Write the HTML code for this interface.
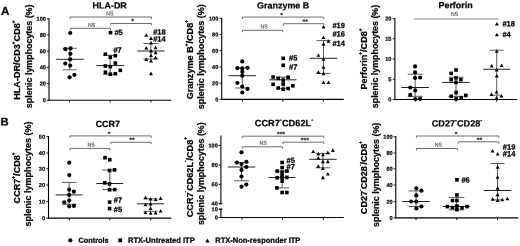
<!DOCTYPE html>
<html><head><meta charset="utf-8"><title>figure</title>
<style>
html,body{margin:0;padding:0;background:#fff;}
body{width:520px;height:246px;overflow:hidden;}
svg{display:block;font-family:"Liberation Sans", sans-serif;}
</style></head><body>
<svg width="520" height="246" viewBox="0 0 520 246">
<rect x="0" y="0" width="520" height="246" fill="#fff"/>
<g style="will-change:transform">
<line x1="49" y1="18.25" x2="49" y2="100.7" stroke="#000" stroke-width="1.1" stroke-linecap="butt"/>
<line x1="48.45" y1="100.2" x2="171.3" y2="100.2" stroke="#000" stroke-width="1.15" stroke-linecap="butt"/>
<line x1="46.8" y1="18.8" x2="49" y2="18.8" stroke="#000" stroke-width="0.9" stroke-linecap="butt"/>
<text x="45.9" y="20.8" font-size="5.6" text-anchor="end" font-weight="bold" fill="#000" transform="rotate(0.03 45.9 20.8)" stroke="#000" stroke-width="0.2">100</text>
<line x1="46.8" y1="34.9" x2="49" y2="34.9" stroke="#000" stroke-width="0.9" stroke-linecap="butt"/>
<text x="45.9" y="36.9" font-size="5.6" text-anchor="end" font-weight="bold" fill="#000" transform="rotate(0.03 45.9 36.9)" stroke="#000" stroke-width="0.2">80</text>
<line x1="46.8" y1="51.2" x2="49" y2="51.2" stroke="#000" stroke-width="0.9" stroke-linecap="butt"/>
<text x="45.9" y="53.2" font-size="5.6" text-anchor="end" font-weight="bold" fill="#000" transform="rotate(0.03 45.9 53.2)" stroke="#000" stroke-width="0.2">60</text>
<line x1="46.8" y1="67.2" x2="49" y2="67.2" stroke="#000" stroke-width="0.9" stroke-linecap="butt"/>
<text x="45.9" y="69.2" font-size="5.6" text-anchor="end" font-weight="bold" fill="#000" transform="rotate(0.03 45.9 69.2)" stroke="#000" stroke-width="0.2">40</text>
<line x1="46.8" y1="83.6" x2="49" y2="83.6" stroke="#000" stroke-width="0.9" stroke-linecap="butt"/>
<text x="45.9" y="85.6" font-size="5.6" text-anchor="end" font-weight="bold" fill="#000" transform="rotate(0.03 45.9 85.6)" stroke="#000" stroke-width="0.2">20</text>
<line x1="46.8" y1="100.3" x2="49" y2="100.3" stroke="#000" stroke-width="0.9" stroke-linecap="butt"/>
<text x="45.9" y="102.3" font-size="5.6" text-anchor="end" font-weight="bold" fill="#000" transform="rotate(0.03 45.9 102.3)" stroke="#000" stroke-width="0.2">0</text>
<line x1="69.6" y1="100.2" x2="69.6" y2="102.4" stroke="#000" stroke-width="1" stroke-linecap="butt"/>
<line x1="110.2" y1="100.2" x2="110.2" y2="102.4" stroke="#000" stroke-width="1" stroke-linecap="butt"/>
<line x1="150.9" y1="100.2" x2="150.9" y2="102.4" stroke="#000" stroke-width="1" stroke-linecap="butt"/>
<text x="109.7" y="8.5" font-size="8.95" text-anchor="middle" font-weight="bold" fill="#000" transform="rotate(0.03 109.7 8.5)" stroke="#000" stroke-width="0.22">HLA-DR</text>
<text x="20.5" y="60.1" font-size="9.1" text-anchor="middle" font-weight="bold" fill="#000" transform="rotate(-90 20.5 60.1)" stroke="#000" stroke-width="0.22">HLA-DR/CD3<tspan font-size="4.73" dy="-5.28">+</tspan><tspan dy="5.28">CD8</tspan><tspan font-size="4.73" dy="-5.28">+</tspan></text>
<text x="32" y="56.35" font-size="8.9" text-anchor="middle" font-weight="bold" fill="#000" transform="rotate(-90 32 56.35)" stroke="#000" stroke-width="0.22">splenic lymphocytes (%)</text>
<line x1="55.8" y1="59.3" x2="83.8" y2="59.3" stroke="#222" stroke-width="1" stroke-linecap="butt"/>
<line x1="69.8" y1="48.3" x2="69.8" y2="69.8" stroke="#333" stroke-width="0.8" stroke-linecap="butt"/>
<line x1="62.8" y1="48.3" x2="76.8" y2="48.3" stroke="#333" stroke-width="0.8" stroke-linecap="butt"/>
<line x1="62.8" y1="69.8" x2="76.8" y2="69.8" stroke="#333" stroke-width="0.8" stroke-linecap="butt"/>
<line x1="96.2" y1="65.6" x2="124.2" y2="65.6" stroke="#222" stroke-width="1" stroke-linecap="butt"/>
<line x1="110.2" y1="55.4" x2="110.2" y2="74.4" stroke="#333" stroke-width="0.8" stroke-linecap="butt"/>
<line x1="103.2" y1="55.4" x2="117.2" y2="55.4" stroke="#333" stroke-width="0.8" stroke-linecap="butt"/>
<line x1="103.2" y1="74.4" x2="117.2" y2="74.4" stroke="#333" stroke-width="0.8" stroke-linecap="butt"/>
<line x1="137.2" y1="51" x2="164.6" y2="51" stroke="#222" stroke-width="1" stroke-linecap="butt"/>
<line x1="150.9" y1="43.5" x2="150.9" y2="59" stroke="#333" stroke-width="0.8" stroke-linecap="butt"/>
<line x1="143.4" y1="43.5" x2="158.4" y2="43.5" stroke="#333" stroke-width="0.8" stroke-linecap="butt"/>
<line x1="143.4" y1="59" x2="158.4" y2="59" stroke="#333" stroke-width="0.8" stroke-linecap="butt"/>
<circle cx="70.2" cy="33" r="2.1"/>
<circle cx="65.4" cy="49.2" r="2.1"/>
<circle cx="70.6" cy="48.4" r="2.1"/>
<circle cx="70.4" cy="53.8" r="2.1"/>
<circle cx="70.2" cy="59.3" r="2.1"/>
<circle cx="65.3" cy="63.6" r="2.1"/>
<circle cx="70.2" cy="65.6" r="2.1"/>
<circle cx="74.4" cy="74.8" r="2.1"/>
<circle cx="69.6" cy="77.3" r="2.1"/>
<rect x="108.7" y="30.8" width="3.6" height="3.6"/>
<rect x="103.6" y="52.4" width="3.6" height="3.6"/>
<rect x="108.5" y="55.5" width="3.6" height="3.6"/>
<rect x="113.5" y="53.9" width="3.6" height="3.6"/>
<rect x="113.5" y="61.3" width="3.6" height="3.6"/>
<rect x="103.6" y="64.2" width="3.6" height="3.6"/>
<rect x="108.5" y="64.8" width="3.6" height="3.6"/>
<rect x="103.6" y="70.5" width="3.6" height="3.6"/>
<rect x="108.5" y="72.4" width="3.6" height="3.6"/>
<rect x="113.5" y="71.9" width="3.6" height="3.6"/>
<rect x="118.5" y="68.5" width="3.6" height="3.6"/>
<path d="M146.3 33.2L148.25 36.8L144.35 36.8Z"/>
<path d="M151 36.3L152.95 39.9L149.05 39.9Z"/>
<path d="M151 41L152.95 44.6L149.05 44.6Z"/>
<path d="M146.3 46L148.25 49.6L144.35 49.6Z"/>
<path d="M155.6 45.6L157.55 49.2L153.65 49.2Z"/>
<path d="M151 48.9L152.95 52.5L149.05 52.5Z"/>
<path d="M155.6 50.6L157.55 54.2L153.65 54.2Z"/>
<path d="M151 53.4L152.95 57L149.05 57Z"/>
<path d="M155.6 55.7L157.55 59.3L153.65 59.3Z"/>
<path d="M146.3 57.4L148.25 61L144.35 61Z"/>
<path d="M151 58.8L152.95 62.4L149.05 62.4Z"/>
<path d="M151 71.6L152.95 75.2L149.05 75.2Z"/>
<path d="M70.1 18.9L70.1 17L151.5 17L151.5 18.9" fill="none" stroke="#6c6c6c" stroke-width="1"/>
<text x="0" y="0" font-size="5.9" text-anchor="middle" font-weight="normal" fill="#404040" transform="translate(109.8 15.4) rotate(0.03) scale(0.88 1)" stroke="#404040" stroke-width="0.12">NS</text>
<path d="M70.1 30.2L70.1 28.3L110.6 28.3L110.6 30.2" fill="none" stroke="#6c6c6c" stroke-width="1"/>
<text x="0" y="0" font-size="5.9" text-anchor="middle" font-weight="normal" fill="#404040" transform="translate(91.6 27) rotate(0.03) scale(0.88 1)" stroke="#404040" stroke-width="0.12">NS</text>
<path d="M110.7 25.4L110.7 23.5L151.5 23.5L151.5 25.4" fill="none" stroke="#6c6c6c" stroke-width="1"/>
<text x="132.5" y="23.6" font-size="7" text-anchor="middle" font-weight="bold" fill="#1a1a1a" transform="rotate(0.03 132.5 23.6)" stroke="#1a1a1a" stroke-width="0.1">*</text>
<text x="114.4" y="35" font-size="7.5" text-anchor="start" font-weight="bold" fill="#000" transform="rotate(0.03 114.4 35)" stroke="#000" stroke-width="0.26">#5</text>
<text x="113.4" y="52.4" font-size="7.5" text-anchor="start" font-weight="bold" fill="#000" transform="rotate(0.03 113.4 52.4)" stroke="#000" stroke-width="0.26">#7</text>
<text x="153.2" y="34.6" font-size="7.5" text-anchor="start" font-weight="bold" fill="#000" transform="rotate(0.03 153.2 34.6)" stroke="#000" stroke-width="0.26">#18</text>
<text x="153.2" y="41.5" font-size="7.5" text-anchor="start" font-weight="bold" fill="#000" transform="rotate(0.03 153.2 41.5)" stroke="#000" stroke-width="0.26">#14</text>
<line x1="221.7" y1="17.85" x2="221.7" y2="99.9" stroke="#000" stroke-width="1.1" stroke-linecap="butt"/>
<line x1="221.15" y1="99.4" x2="343.8" y2="99.4" stroke="#000" stroke-width="1.15" stroke-linecap="butt"/>
<line x1="219.5" y1="18.4" x2="221.7" y2="18.4" stroke="#000" stroke-width="0.9" stroke-linecap="butt"/>
<text x="218.3" y="20.4" font-size="5.6" text-anchor="end" font-weight="bold" fill="#000" transform="rotate(0.03 218.3 20.4)" stroke="#000" stroke-width="0.2">100</text>
<line x1="219.5" y1="34.5" x2="221.7" y2="34.5" stroke="#000" stroke-width="0.9" stroke-linecap="butt"/>
<text x="218.3" y="36.5" font-size="5.6" text-anchor="end" font-weight="bold" fill="#000" transform="rotate(0.03 218.3 36.5)" stroke="#000" stroke-width="0.2">80</text>
<line x1="219.5" y1="50.7" x2="221.7" y2="50.7" stroke="#000" stroke-width="0.9" stroke-linecap="butt"/>
<text x="218.3" y="52.7" font-size="5.6" text-anchor="end" font-weight="bold" fill="#000" transform="rotate(0.03 218.3 52.7)" stroke="#000" stroke-width="0.2">60</text>
<line x1="219.5" y1="67" x2="221.7" y2="67" stroke="#000" stroke-width="0.9" stroke-linecap="butt"/>
<text x="218.3" y="69" font-size="5.6" text-anchor="end" font-weight="bold" fill="#000" transform="rotate(0.03 218.3 69)" stroke="#000" stroke-width="0.2">40</text>
<line x1="219.5" y1="83.2" x2="221.7" y2="83.2" stroke="#000" stroke-width="0.9" stroke-linecap="butt"/>
<text x="218.3" y="85.2" font-size="5.6" text-anchor="end" font-weight="bold" fill="#000" transform="rotate(0.03 218.3 85.2)" stroke="#000" stroke-width="0.2">20</text>
<line x1="219.5" y1="99.4" x2="221.7" y2="99.4" stroke="#000" stroke-width="0.9" stroke-linecap="butt"/>
<text x="218.3" y="101.4" font-size="5.6" text-anchor="end" font-weight="bold" fill="#000" transform="rotate(0.03 218.3 101.4)" stroke="#000" stroke-width="0.2">0</text>
<line x1="242.5" y1="99.4" x2="242.5" y2="101.6" stroke="#000" stroke-width="1" stroke-linecap="butt"/>
<line x1="282.8" y1="99.4" x2="282.8" y2="101.6" stroke="#000" stroke-width="1" stroke-linecap="butt"/>
<line x1="323.3" y1="99.4" x2="323.3" y2="101.6" stroke="#000" stroke-width="1" stroke-linecap="butt"/>
<text x="283.2" y="8.4" font-size="8.95" text-anchor="middle" font-weight="bold" fill="#000" transform="rotate(0.03 283.2 8.4)" stroke="#000" stroke-width="0.22">Granzyme B</text>
<text x="192.9" y="59.7" font-size="9.1" text-anchor="middle" font-weight="bold" fill="#000" transform="rotate(-90 192.9 59.7)" stroke="#000" stroke-width="0.22">Granzyme B<tspan font-size="4.73" dy="-5.28">+</tspan><tspan dy="5.28">/CD8</tspan><tspan font-size="4.73" dy="-5.28">+</tspan></text>
<text x="204.4" y="56.7" font-size="9" text-anchor="middle" font-weight="bold" fill="#000" transform="rotate(-90 204.4 56.7)" stroke="#000" stroke-width="0.22">splenic lymphocytes (%)</text>
<line x1="228.55" y1="75.7" x2="256.05" y2="75.7" stroke="#222" stroke-width="1" stroke-linecap="butt"/>
<line x1="242.3" y1="67.8" x2="242.3" y2="88" stroke="#333" stroke-width="0.8" stroke-linecap="butt"/>
<line x1="235.3" y1="67.8" x2="249.3" y2="67.8" stroke="#333" stroke-width="0.8" stroke-linecap="butt"/>
<line x1="235.3" y1="88" x2="249.3" y2="88" stroke="#333" stroke-width="0.8" stroke-linecap="butt"/>
<line x1="269.5" y1="79.8" x2="296.5" y2="79.8" stroke="#222" stroke-width="1" stroke-linecap="butt"/>
<line x1="283" y1="77.2" x2="283" y2="88.6" stroke="#333" stroke-width="0.8" stroke-linecap="butt"/>
<line x1="276" y1="77.2" x2="290" y2="77.2" stroke="#333" stroke-width="0.8" stroke-linecap="butt"/>
<line x1="276" y1="88.6" x2="290" y2="88.6" stroke="#333" stroke-width="0.8" stroke-linecap="butt"/>
<line x1="309.75" y1="58.3" x2="337.25" y2="58.3" stroke="#222" stroke-width="1" stroke-linecap="butt"/>
<line x1="323.5" y1="40.6" x2="323.5" y2="73.4" stroke="#333" stroke-width="0.8" stroke-linecap="butt"/>
<line x1="316.5" y1="40.6" x2="330.5" y2="40.6" stroke="#333" stroke-width="0.8" stroke-linecap="butt"/>
<line x1="316.5" y1="73.4" x2="330.5" y2="73.4" stroke="#333" stroke-width="0.8" stroke-linecap="butt"/>
<circle cx="242.3" cy="61.4" r="2.1"/>
<circle cx="237.4" cy="68.2" r="2.1"/>
<circle cx="242.3" cy="68.4" r="2.1"/>
<circle cx="247.5" cy="67.8" r="2.1"/>
<circle cx="242.3" cy="71.8" r="2.1"/>
<circle cx="242.3" cy="75.7" r="2.1"/>
<circle cx="237.4" cy="83" r="2.1"/>
<circle cx="242.3" cy="86.5" r="2.1"/>
<circle cx="247.5" cy="88.9" r="2.1"/>
<circle cx="242.3" cy="92.5" r="2.1"/>
<rect x="281.4" y="56.5" width="3.6" height="3.6"/>
<rect x="281.4" y="63.5" width="3.6" height="3.6"/>
<rect x="271.3" y="75.2" width="3.6" height="3.6"/>
<rect x="276.4" y="76.6" width="3.6" height="3.6"/>
<rect x="281.4" y="78.3" width="3.6" height="3.6"/>
<rect x="286.3" y="75.5" width="3.6" height="3.6"/>
<rect x="271.3" y="82.5" width="3.6" height="3.6"/>
<rect x="276.4" y="86.2" width="3.6" height="3.6"/>
<rect x="281.4" y="87.4" width="3.6" height="3.6"/>
<rect x="286.3" y="86.7" width="3.6" height="3.6"/>
<rect x="291.1" y="84" width="3.6" height="3.6"/>
<rect x="281.4" y="82.2" width="3.6" height="3.6"/>
<path d="M323.5 24.9L325.45 28.5L321.55 28.5Z"/>
<path d="M323.5 35.5L325.45 39.1L321.55 39.1Z"/>
<path d="M328.5 39.2L330.45 42.8L326.55 42.8Z"/>
<path d="M323.5 42.1L325.45 45.7L321.55 45.7Z"/>
<path d="M318.4 53.2L320.35 56.8L316.45 56.8Z"/>
<path d="M323.5 56.9L325.45 60.5L321.55 60.5Z"/>
<path d="M323.5 65.2L325.45 68.8L321.55 68.8Z"/>
<path d="M318.4 70.3L320.35 73.9L316.45 73.9Z"/>
<path d="M323.5 71.6L325.45 75.2L321.55 75.2Z"/>
<path d="M323.5 80.4L325.45 84L321.55 84Z"/>
<path d="M328.5 80.4L330.45 84L326.55 84Z"/>
<path d="M242.5 19L242.5 17.1L323.8 17.1L323.8 19" fill="none" stroke="#6c6c6c" stroke-width="1"/>
<text x="281.6" y="17.5" font-size="7" text-anchor="middle" font-weight="bold" fill="#1a1a1a" transform="rotate(0.03 281.6 17.5)" stroke="#1a1a1a" stroke-width="0.1">*</text>
<path d="M242.5 32.2L242.5 30.3L282.7 30.3L282.7 32.2" fill="none" stroke="#6c6c6c" stroke-width="1"/>
<text x="0" y="0" font-size="5.9" text-anchor="middle" font-weight="normal" fill="#404040" transform="translate(264 28.6) rotate(0.03) scale(0.88 1)" stroke="#404040" stroke-width="0.12">NS</text>
<path d="M283.4 25.6L283.4 23.7L323.8 23.7L323.8 25.6" fill="none" stroke="#6c6c6c" stroke-width="1"/>
<text x="305.2" y="23.9" font-size="7" text-anchor="middle" font-weight="bold" fill="#1a1a1a" transform="rotate(0.03 305.2 23.9)" stroke="#1a1a1a" stroke-width="0.1">**</text>
<text x="289" y="60.6" font-size="7.5" text-anchor="start" font-weight="bold" fill="#000" transform="rotate(0.03 289 60.6)" stroke="#000" stroke-width="0.26">#5</text>
<text x="289" y="69.4" font-size="7.5" text-anchor="start" font-weight="bold" fill="#000" transform="rotate(0.03 289 69.4)" stroke="#000" stroke-width="0.26">#7</text>
<text x="332.4" y="27.9" font-size="7.5" text-anchor="start" font-weight="bold" fill="#000" transform="rotate(0.03 332.4 27.9)" stroke="#000" stroke-width="0.26">#19</text>
<text x="332.4" y="36.5" font-size="7.5" text-anchor="start" font-weight="bold" fill="#000" transform="rotate(0.03 332.4 36.5)" stroke="#000" stroke-width="0.26">#16</text>
<text x="332.4" y="46.1" font-size="7.5" text-anchor="start" font-weight="bold" fill="#000" transform="rotate(0.03 332.4 46.1)" stroke="#000" stroke-width="0.26">#14</text>
<line x1="394.9" y1="18.05" x2="394.9" y2="100" stroke="#000" stroke-width="1.1" stroke-linecap="butt"/>
<line x1="394.35" y1="99.5" x2="517" y2="99.5" stroke="#000" stroke-width="1.15" stroke-linecap="butt"/>
<line x1="392.7" y1="18.6" x2="394.9" y2="18.6" stroke="#000" stroke-width="0.9" stroke-linecap="butt"/>
<text x="391.4" y="20.6" font-size="5.6" text-anchor="end" font-weight="bold" fill="#000" transform="rotate(0.03 391.4 20.6)" stroke="#000" stroke-width="0.2">20</text>
<line x1="392.7" y1="38.8" x2="394.9" y2="38.8" stroke="#000" stroke-width="0.9" stroke-linecap="butt"/>
<text x="391.4" y="40.8" font-size="5.6" text-anchor="end" font-weight="bold" fill="#000" transform="rotate(0.03 391.4 40.8)" stroke="#000" stroke-width="0.2">15</text>
<line x1="392.7" y1="59" x2="394.9" y2="59" stroke="#000" stroke-width="0.9" stroke-linecap="butt"/>
<text x="391.4" y="61" font-size="5.6" text-anchor="end" font-weight="bold" fill="#000" transform="rotate(0.03 391.4 61)" stroke="#000" stroke-width="0.2">10</text>
<line x1="392.7" y1="79.3" x2="394.9" y2="79.3" stroke="#000" stroke-width="0.9" stroke-linecap="butt"/>
<text x="391.4" y="81.3" font-size="5.6" text-anchor="end" font-weight="bold" fill="#000" transform="rotate(0.03 391.4 81.3)" stroke="#000" stroke-width="0.2">5</text>
<line x1="392.7" y1="99.5" x2="394.9" y2="99.5" stroke="#000" stroke-width="0.9" stroke-linecap="butt"/>
<text x="391.4" y="101.5" font-size="5.6" text-anchor="end" font-weight="bold" fill="#000" transform="rotate(0.03 391.4 101.5)" stroke="#000" stroke-width="0.2">0</text>
<line x1="415.6" y1="99.5" x2="415.6" y2="101.7" stroke="#000" stroke-width="1" stroke-linecap="butt"/>
<line x1="456" y1="99.5" x2="456" y2="101.7" stroke="#000" stroke-width="1" stroke-linecap="butt"/>
<line x1="496.8" y1="99.5" x2="496.8" y2="101.7" stroke="#000" stroke-width="1" stroke-linecap="butt"/>
<text x="455.6" y="8.3" font-size="8.95" text-anchor="middle" font-weight="bold" fill="#000" transform="rotate(0.03 455.6 8.3)" stroke="#000" stroke-width="0.22">Perforin</text>
<text x="366.9" y="59" font-size="9.1" text-anchor="middle" font-weight="bold" fill="#000" transform="rotate(-90 366.9 59)" stroke="#000" stroke-width="0.22">Perforin<tspan font-size="4.73" dy="-5.28">+</tspan><tspan dy="5.28">/CD8</tspan><tspan font-size="4.73" dy="-5.28">+</tspan></text>
<text x="378.4" y="56.5" font-size="8.87" text-anchor="middle" font-weight="bold" fill="#000" transform="rotate(-90 378.4 56.5)" stroke="#000" stroke-width="0.22">splenic lymphocytes (%)</text>
<line x1="401.45" y1="87.5" x2="428.95" y2="87.5" stroke="#222" stroke-width="1" stroke-linecap="butt"/>
<line x1="415.2" y1="74.2" x2="415.2" y2="96.3" stroke="#333" stroke-width="0.8" stroke-linecap="butt"/>
<line x1="407.7" y1="74.2" x2="422.7" y2="74.2" stroke="#333" stroke-width="0.8" stroke-linecap="butt"/>
<line x1="407.7" y1="96.3" x2="422.7" y2="96.3" stroke="#333" stroke-width="0.8" stroke-linecap="butt"/>
<line x1="442.3" y1="82.4" x2="469.7" y2="82.4" stroke="#222" stroke-width="1" stroke-linecap="butt"/>
<line x1="456" y1="77.3" x2="456" y2="96.4" stroke="#333" stroke-width="0.8" stroke-linecap="butt"/>
<line x1="448.5" y1="77.3" x2="463.5" y2="77.3" stroke="#333" stroke-width="0.8" stroke-linecap="butt"/>
<line x1="448.5" y1="96.4" x2="463.5" y2="96.4" stroke="#333" stroke-width="0.8" stroke-linecap="butt"/>
<line x1="483.2" y1="69.3" x2="510.2" y2="69.3" stroke="#222" stroke-width="1" stroke-linecap="butt"/>
<line x1="496.7" y1="50.2" x2="496.7" y2="95.2" stroke="#333" stroke-width="0.8" stroke-linecap="butt"/>
<line x1="489.7" y1="50.2" x2="503.7" y2="50.2" stroke="#333" stroke-width="0.8" stroke-linecap="butt"/>
<line x1="492.7" y1="95.2" x2="500.7" y2="95.2" stroke="#333" stroke-width="0.8" stroke-linecap="butt"/>
<circle cx="415.1" cy="66.4" r="2.1"/>
<circle cx="415.1" cy="72.4" r="2.1"/>
<circle cx="415.1" cy="77.9" r="2.1"/>
<circle cx="420.1" cy="77.5" r="2.1"/>
<circle cx="410.3" cy="87.5" r="2.1"/>
<circle cx="415.2" cy="90.4" r="2.1"/>
<circle cx="410.3" cy="94.9" r="2.1"/>
<circle cx="415.3" cy="99" r="2.1"/>
<circle cx="420.1" cy="98.8" r="2.1"/>
<rect x="454.2" y="68.2" width="3.6" height="3.6"/>
<rect x="449.4" y="71.6" width="3.6" height="3.6"/>
<rect x="449.4" y="77.9" width="3.6" height="3.6"/>
<rect x="454.2" y="76.1" width="3.6" height="3.6"/>
<rect x="459.1" y="77.9" width="3.6" height="3.6"/>
<rect x="454.2" y="80.6" width="3.6" height="3.6"/>
<rect x="454.3" y="90.8" width="3.6" height="3.6"/>
<rect x="449.4" y="94.5" width="3.6" height="3.6"/>
<rect x="454.3" y="97" width="3.6" height="3.6"/>
<rect x="459.4" y="95.9" width="3.6" height="3.6"/>
<rect x="464" y="93.6" width="3.6" height="3.6"/>
<path d="M496.8 22L498.75 25.6L494.85 25.6Z"/>
<path d="M496.8 32.7L498.75 36.3L494.85 36.3Z"/>
<path d="M496.7 49.2L498.65 52.8L494.75 52.8Z"/>
<path d="M491.7 63.8L493.65 67.4L489.75 67.4Z"/>
<path d="M501.6 63.5L503.55 67.1L499.65 67.1Z"/>
<path d="M496.7 67.8L498.65 71.4L494.75 71.4Z"/>
<path d="M496.7 74L498.65 77.6L494.75 77.6Z"/>
<path d="M496.6 90L498.55 93.6L494.65 93.6Z"/>
<path d="M491.5 92.3L493.45 95.9L489.55 95.9Z"/>
<path d="M501.5 93.9L503.45 97.5L499.55 97.5Z"/>
<path d="M496.6 95.6L498.55 99.2L494.65 99.2Z"/>
<path d="M413.8 19L413.8 19L498.8 19L498.8 19" fill="none" stroke="#6c6c6c" stroke-width="0.8"/>
<text x="0" y="0" font-size="5.9" text-anchor="middle" font-weight="normal" fill="#404040" transform="translate(454.6 16.1) rotate(0.03) scale(0.88 1)" stroke="#404040" stroke-width="0.12">NS</text>
<text x="502.4" y="26.2" font-size="7.5" text-anchor="start" font-weight="bold" fill="#000" transform="rotate(0.03 502.4 26.2)" stroke="#000" stroke-width="0.26">#18</text>
<text x="502.4" y="36.9" font-size="7.5" text-anchor="start" font-weight="bold" fill="#000" transform="rotate(0.03 502.4 36.9)" stroke="#000" stroke-width="0.26">#4</text>
<line x1="48.5" y1="136.05" x2="48.5" y2="218.6" stroke="#000" stroke-width="1.1" stroke-linecap="butt"/>
<line x1="47.95" y1="218.1" x2="171.3" y2="218.1" stroke="#000" stroke-width="1.15" stroke-linecap="butt"/>
<line x1="46.3" y1="136.7" x2="48.5" y2="136.7" stroke="#000" stroke-width="0.9" stroke-linecap="butt"/>
<text x="45.1" y="138.7" font-size="5.6" text-anchor="end" font-weight="bold" fill="#000" transform="rotate(0.03 45.1 138.7)" stroke="#000" stroke-width="0.2">50</text>
<line x1="46.3" y1="153" x2="48.5" y2="153" stroke="#000" stroke-width="0.9" stroke-linecap="butt"/>
<text x="45.1" y="155" font-size="5.6" text-anchor="end" font-weight="bold" fill="#000" transform="rotate(0.03 45.1 155)" stroke="#000" stroke-width="0.2">40</text>
<line x1="46.3" y1="168.8" x2="48.5" y2="168.8" stroke="#000" stroke-width="0.9" stroke-linecap="butt"/>
<text x="45.1" y="170.8" font-size="5.6" text-anchor="end" font-weight="bold" fill="#000" transform="rotate(0.03 45.1 170.8)" stroke="#000" stroke-width="0.2">30</text>
<line x1="46.3" y1="185" x2="48.5" y2="185" stroke="#000" stroke-width="0.9" stroke-linecap="butt"/>
<text x="45.1" y="187" font-size="5.6" text-anchor="end" font-weight="bold" fill="#000" transform="rotate(0.03 45.1 187)" stroke="#000" stroke-width="0.2">20</text>
<line x1="46.3" y1="201.7" x2="48.5" y2="201.7" stroke="#000" stroke-width="0.9" stroke-linecap="butt"/>
<text x="45.1" y="203.7" font-size="5.6" text-anchor="end" font-weight="bold" fill="#000" transform="rotate(0.03 45.1 203.7)" stroke="#000" stroke-width="0.2">10</text>
<line x1="46.3" y1="218.2" x2="48.5" y2="218.2" stroke="#000" stroke-width="0.9" stroke-linecap="butt"/>
<text x="45.1" y="220.2" font-size="5.6" text-anchor="end" font-weight="bold" fill="#000" transform="rotate(0.03 45.1 220.2)" stroke="#000" stroke-width="0.2">0</text>
<line x1="69.4" y1="218.1" x2="69.4" y2="220.3" stroke="#000" stroke-width="1" stroke-linecap="butt"/>
<line x1="109.8" y1="218.1" x2="109.8" y2="220.3" stroke="#000" stroke-width="1" stroke-linecap="butt"/>
<line x1="150.8" y1="218.1" x2="150.8" y2="220.3" stroke="#000" stroke-width="1" stroke-linecap="butt"/>
<text x="107.8" y="126.9" font-size="8.95" text-anchor="middle" font-weight="bold" fill="#000" transform="rotate(0.03 107.8 126.9)" stroke="#000" stroke-width="0.22">CCR7</text>
<text x="19.8" y="177.9" font-size="9.1" text-anchor="middle" font-weight="bold" fill="#000" transform="rotate(-90 19.8 177.9)" stroke="#000" stroke-width="0.22">CCR7<tspan font-size="4.73" dy="-5.28">+</tspan><tspan dy="5.28">/CD8</tspan><tspan font-size="4.73" dy="-5.28">+</tspan></text>
<text x="31.2" y="174.1" font-size="9" text-anchor="middle" font-weight="bold" fill="#000" transform="rotate(-90 31.2 174.1)" stroke="#000" stroke-width="0.22">splenic lymphocytes (%)</text>
<line x1="55.7" y1="194.9" x2="82.7" y2="194.9" stroke="#222" stroke-width="1" stroke-linecap="butt"/>
<line x1="69.2" y1="182.4" x2="69.2" y2="204.2" stroke="#333" stroke-width="0.8" stroke-linecap="butt"/>
<line x1="61.95" y1="182.4" x2="76.45" y2="182.4" stroke="#333" stroke-width="0.8" stroke-linecap="butt"/>
<line x1="61.95" y1="204.2" x2="76.45" y2="204.2" stroke="#333" stroke-width="0.8" stroke-linecap="butt"/>
<line x1="96.3" y1="183.5" x2="123.3" y2="183.5" stroke="#222" stroke-width="1" stroke-linecap="butt"/>
<line x1="109.8" y1="170" x2="109.8" y2="189.6" stroke="#333" stroke-width="0.8" stroke-linecap="butt"/>
<line x1="102.3" y1="170" x2="117.3" y2="170" stroke="#333" stroke-width="0.8" stroke-linecap="butt"/>
<line x1="102.3" y1="189.6" x2="117.3" y2="189.6" stroke="#333" stroke-width="0.8" stroke-linecap="butt"/>
<line x1="137.1" y1="203.8" x2="164.1" y2="203.8" stroke="#222" stroke-width="1" stroke-linecap="butt"/>
<line x1="150.6" y1="198.8" x2="150.6" y2="211.3" stroke="#333" stroke-width="0.8" stroke-linecap="butt"/>
<line x1="143.6" y1="198.8" x2="157.6" y2="198.8" stroke="#333" stroke-width="0.8" stroke-linecap="butt"/>
<line x1="143.6" y1="211.3" x2="157.6" y2="211.3" stroke="#333" stroke-width="0.8" stroke-linecap="butt"/>
<circle cx="69.3" cy="162.7" r="2.1"/>
<circle cx="69.3" cy="175.1" r="2.1"/>
<circle cx="69.2" cy="189.7" r="2.1"/>
<circle cx="73.9" cy="191.7" r="2.1"/>
<circle cx="69.2" cy="194.9" r="2.1"/>
<circle cx="69.2" cy="200.6" r="2.1"/>
<circle cx="64.2" cy="202.3" r="2.1"/>
<circle cx="69.2" cy="206.3" r="2.1"/>
<circle cx="73.9" cy="205.9" r="2.1"/>
<rect x="103.2" y="155.9" width="3.6" height="3.6"/>
<rect x="108" y="157.9" width="3.6" height="3.6"/>
<rect x="107.7" y="168.7" width="3.6" height="3.6"/>
<rect x="112.7" y="168.1" width="3.6" height="3.6"/>
<rect x="103" y="181.1" width="3.6" height="3.6"/>
<rect x="107.7" y="182" width="3.6" height="3.6"/>
<rect x="107.8" y="188" width="3.6" height="3.6"/>
<rect x="112.8" y="187.8" width="3.6" height="3.6"/>
<rect x="107.8" y="200.3" width="3.6" height="3.6"/>
<rect x="107.8" y="206.8" width="3.6" height="3.6"/>
<path d="M145.5 195.6L147.45 199.2L143.55 199.2Z"/>
<path d="M150.6 197L152.55 200.6L148.65 200.6Z"/>
<path d="M155.6 197.3L157.55 200.9L153.65 200.9Z"/>
<path d="M160.6 196.3L162.55 199.9L158.65 199.9Z"/>
<path d="M145.5 202.6L147.45 206.2L143.55 206.2Z"/>
<path d="M150.6 202L152.55 205.6L148.65 205.6Z"/>
<path d="M150.6 206.4L152.55 210L148.65 210Z"/>
<path d="M145.5 210.4L147.45 214L143.55 214Z"/>
<path d="M150.6 211.2L152.55 214.8L148.65 214.8Z"/>
<path d="M155.6 210.8L157.55 214.4L153.65 214.4Z"/>
<path d="M160.6 209L162.55 212.6L158.65 212.6Z"/>
<path d="M70 137.8L70 135.9L151.2 135.9L151.2 137.8" fill="none" stroke="#6c6c6c" stroke-width="1"/>
<text x="109" y="136.2" font-size="7" text-anchor="middle" font-weight="bold" fill="#1a1a1a" transform="rotate(0.03 109 136.2)" stroke="#1a1a1a" stroke-width="0.1">*</text>
<path d="M70 150.3L70 148.4L109.6 148.4L109.6 150.3" fill="none" stroke="#6c6c6c" stroke-width="1"/>
<text x="0" y="0" font-size="5.9" text-anchor="middle" font-weight="normal" fill="#404040" transform="translate(91 146.7) rotate(0.03) scale(0.88 1)" stroke="#404040" stroke-width="0.12">NS</text>
<path d="M110.8 144.2L110.8 142.3L151.2 142.3L151.2 144.2" fill="none" stroke="#6c6c6c" stroke-width="1"/>
<text x="132" y="142.2" font-size="7" text-anchor="middle" font-weight="bold" fill="#1a1a1a" transform="rotate(0.03 132 142.2)" stroke="#1a1a1a" stroke-width="0.1">**</text>
<text x="113.8" y="202.6" font-size="7.5" text-anchor="start" font-weight="bold" fill="#000" transform="rotate(0.03 113.8 202.6)" stroke="#000" stroke-width="0.26">#7</text>
<text x="113.8" y="212" font-size="7.5" text-anchor="start" font-weight="bold" fill="#000" transform="rotate(0.03 113.8 212)" stroke="#000" stroke-width="0.26">#5</text>
<line x1="220.9" y1="135.45" x2="220.9" y2="218" stroke="#000" stroke-width="1.1" stroke-linecap="butt"/>
<line x1="220.35" y1="217.5" x2="343.8" y2="217.5" stroke="#000" stroke-width="1.15" stroke-linecap="butt"/>
<line x1="218.7" y1="145.5" x2="220.9" y2="145.5" stroke="#000" stroke-width="0.9" stroke-linecap="butt"/>
<text x="217.8" y="147.5" font-size="5.6" text-anchor="end" font-weight="bold" fill="#000" transform="rotate(0.03 217.8 147.5)" stroke="#000" stroke-width="0.2">100</text>
<line x1="218.7" y1="165" x2="220.9" y2="165" stroke="#000" stroke-width="0.9" stroke-linecap="butt"/>
<text x="217.8" y="167" font-size="5.6" text-anchor="end" font-weight="bold" fill="#000" transform="rotate(0.03 217.8 167)" stroke="#000" stroke-width="0.2">80</text>
<line x1="218.7" y1="184.3" x2="220.9" y2="184.3" stroke="#000" stroke-width="0.9" stroke-linecap="butt"/>
<text x="217.8" y="186.3" font-size="5.6" text-anchor="end" font-weight="bold" fill="#000" transform="rotate(0.03 217.8 186.3)" stroke="#000" stroke-width="0.2">60</text>
<line x1="218.7" y1="203.6" x2="220.9" y2="203.6" stroke="#000" stroke-width="0.9" stroke-linecap="butt"/>
<text x="217.8" y="205.6" font-size="5.6" text-anchor="end" font-weight="bold" fill="#000" transform="rotate(0.03 217.8 205.6)" stroke="#000" stroke-width="0.2">40</text>
<line x1="218.7" y1="209.3" x2="220.9" y2="209.3" stroke="#000" stroke-width="0.9" stroke-linecap="butt"/>
<text x="217.8" y="211.3" font-size="5.6" text-anchor="end" font-weight="bold" fill="#000" transform="rotate(0.03 217.8 211.3)" stroke="#000" stroke-width="0.2">10</text>
<line x1="218.7" y1="217.5" x2="220.9" y2="217.5" stroke="#000" stroke-width="0.9" stroke-linecap="butt"/>
<text x="217.8" y="219.5" font-size="5.6" text-anchor="end" font-weight="bold" fill="#000" transform="rotate(0.03 217.8 219.5)" stroke="#000" stroke-width="0.2">0</text>
<line x1="242" y1="217.5" x2="242" y2="219.7" stroke="#000" stroke-width="1" stroke-linecap="butt"/>
<line x1="282.5" y1="217.5" x2="282.5" y2="219.7" stroke="#000" stroke-width="1" stroke-linecap="butt"/>
<line x1="323.3" y1="217.5" x2="323.3" y2="219.7" stroke="#000" stroke-width="1" stroke-linecap="butt"/>
<text x="284" y="126.2" font-size="9.25" text-anchor="middle" font-weight="bold" fill="#000" transform="rotate(0.03 284 126.2)" stroke="#000" stroke-width="0.22">CCR7<tspan font-size="6.11" dy="-4.35">-</tspan><tspan dy="4.35">CD62L</tspan><tspan font-size="6.11" dy="-4.35">-</tspan></text>
<text x="192.6" y="177.1" font-size="9.1" text-anchor="middle" font-weight="bold" fill="#000" transform="rotate(-90 192.6 177.1)" stroke="#000" stroke-width="0.22">CCR7<tspan font-size="4.73" dy="-5.28">-</tspan><tspan dy="5.28">CD62L</tspan><tspan font-size="4.73" dy="-5.28">-</tspan><tspan dy="5.28">/CD8</tspan><tspan font-size="4.73" dy="-5.28">+</tspan></text>
<text x="204.1" y="173.7" font-size="8.8" text-anchor="middle" font-weight="bold" fill="#000" transform="rotate(-90 204.1 173.7)" stroke="#000" stroke-width="0.22">splenic lymphocytes (%)</text>
<line x1="227.8" y1="167" x2="255.2" y2="167" stroke="#222" stroke-width="1" stroke-linecap="butt"/>
<line x1="241.5" y1="162.5" x2="241.5" y2="180.8" stroke="#333" stroke-width="0.8" stroke-linecap="butt"/>
<line x1="234" y1="162.5" x2="249" y2="162.5" stroke="#333" stroke-width="0.8" stroke-linecap="butt"/>
<line x1="234" y1="180.8" x2="249" y2="180.8" stroke="#333" stroke-width="0.8" stroke-linecap="butt"/>
<line x1="268.6" y1="177.5" x2="295.6" y2="177.5" stroke="#222" stroke-width="1" stroke-linecap="butt"/>
<line x1="282.1" y1="171.2" x2="282.1" y2="187.9" stroke="#333" stroke-width="0.8" stroke-linecap="butt"/>
<line x1="274.85" y1="171.2" x2="289.35" y2="171.2" stroke="#333" stroke-width="0.8" stroke-linecap="butt"/>
<line x1="274.85" y1="187.9" x2="289.35" y2="187.9" stroke="#333" stroke-width="0.8" stroke-linecap="butt"/>
<line x1="309.2" y1="159.3" x2="336.6" y2="159.3" stroke="#222" stroke-width="1" stroke-linecap="butt"/>
<line x1="322.9" y1="153.6" x2="322.9" y2="167.8" stroke="#333" stroke-width="0.8" stroke-linecap="butt"/>
<line x1="315.65" y1="153.6" x2="330.15" y2="153.6" stroke="#333" stroke-width="0.8" stroke-linecap="butt"/>
<line x1="315.65" y1="167.8" x2="330.15" y2="167.8" stroke="#333" stroke-width="0.8" stroke-linecap="butt"/>
<circle cx="241.5" cy="152.3" r="2.1"/>
<circle cx="236.9" cy="162.6" r="2.1"/>
<circle cx="246.3" cy="161.8" r="2.1"/>
<circle cx="241.5" cy="164.1" r="2.1"/>
<circle cx="246.3" cy="167" r="2.1"/>
<circle cx="241.5" cy="169.9" r="2.1"/>
<circle cx="241.5" cy="176.5" r="2.1"/>
<circle cx="241.5" cy="186.7" r="2.1"/>
<circle cx="246.3" cy="184.6" r="2.1"/>
<rect x="280.3" y="160.7" width="3.6" height="3.6"/>
<rect x="280.3" y="165.8" width="3.6" height="3.6"/>
<rect x="275.5" y="169.3" width="3.6" height="3.6"/>
<rect x="280.3" y="170.3" width="3.6" height="3.6"/>
<rect x="285.1" y="169.3" width="3.6" height="3.6"/>
<rect x="280.3" y="173.5" width="3.6" height="3.6"/>
<rect x="275.5" y="176" width="3.6" height="3.6"/>
<rect x="280.3" y="176" width="3.6" height="3.6"/>
<rect x="285.1" y="175.6" width="3.6" height="3.6"/>
<rect x="280.3" y="179.3" width="3.6" height="3.6"/>
<rect x="275.1" y="186.1" width="3.6" height="3.6"/>
<rect x="280.3" y="190.7" width="3.6" height="3.6"/>
<rect x="285.1" y="190.7" width="3.6" height="3.6"/>
<path d="M313.2 149.5L315.15 153.1L311.25 153.1Z"/>
<path d="M318.3 151.8L320.25 155.4L316.35 155.4Z"/>
<path d="M322.9 152.6L324.85 156.2L320.95 156.2Z"/>
<path d="M327.8 150.6L329.75 154.2L325.85 154.2Z"/>
<path d="M332.9 148.3L334.85 151.9L330.95 151.9Z"/>
<path d="M318.3 155.9L320.25 159.5L316.35 159.5Z"/>
<path d="M322.9 159.6L324.85 163.2L320.95 163.2Z"/>
<path d="M327.8 159.6L329.75 163.2L325.85 163.2Z"/>
<path d="M318.3 164.2L320.25 167.8L316.35 167.8Z"/>
<path d="M322.9 166.4L324.85 170L320.95 170Z"/>
<path d="M327.8 172L329.75 175.6L325.85 175.6Z"/>
<path d="M322.9 175.6L324.85 179.2L320.95 179.2Z"/>
<path d="M242.2 138.1L242.2 136.2L323.8 136.2L323.8 138.1" fill="none" stroke="#6c6c6c" stroke-width="1"/>
<text x="281" y="136.4" font-size="7" text-anchor="middle" font-weight="bold" fill="#1a1a1a" transform="rotate(0.03 281 136.4)" stroke="#1a1a1a" stroke-width="0.1">***</text>
<path d="M242.2 148.7L242.2 146.8L282.4 146.8L282.4 148.7" fill="none" stroke="#6c6c6c" stroke-width="1"/>
<text x="0" y="0" font-size="5.9" text-anchor="middle" font-weight="normal" fill="#404040" transform="translate(263 145.1) rotate(0.03) scale(0.88 1)" stroke="#404040" stroke-width="0.12">NS</text>
<path d="M283 144.1L283 142.2L323.8 142.2L323.8 144.1" fill="none" stroke="#6c6c6c" stroke-width="1"/>
<text x="304.8" y="142.4" font-size="7" text-anchor="middle" font-weight="bold" fill="#1a1a1a" transform="rotate(0.03 304.8 142.4)" stroke="#1a1a1a" stroke-width="0.1">***</text>
<text x="286.6" y="163" font-size="7.5" text-anchor="start" font-weight="bold" fill="#000" transform="rotate(0.03 286.6 163)" stroke="#000" stroke-width="0.26">#5</text>
<text x="286.6" y="169.2" font-size="7.5" text-anchor="start" font-weight="bold" fill="#000" transform="rotate(0.03 286.6 169.2)" stroke="#000" stroke-width="0.26">#7</text>
<rect x="219.9" y="204.2" width="2" height="4.5" fill="#fff"/>
<line x1="219" y1="203.8" x2="222.6" y2="203.8" stroke="#000" stroke-width="0.9" stroke-linecap="butt"/>
<line x1="219" y1="209.1" x2="222.6" y2="209.1" stroke="#000" stroke-width="0.9" stroke-linecap="butt"/>
<line x1="395.8" y1="136.05" x2="395.8" y2="218.4" stroke="#000" stroke-width="1.1" stroke-linecap="butt"/>
<line x1="395.25" y1="217.9" x2="518.2" y2="217.9" stroke="#000" stroke-width="1.15" stroke-linecap="butt"/>
<line x1="393.6" y1="136.7" x2="395.8" y2="136.7" stroke="#000" stroke-width="0.9" stroke-linecap="butt"/>
<text x="392.7" y="138.7" font-size="5.6" text-anchor="end" font-weight="bold" fill="#000" transform="rotate(0.03 392.7 138.7)" stroke="#000" stroke-width="0.2">100</text>
<line x1="393.6" y1="153" x2="395.8" y2="153" stroke="#000" stroke-width="0.9" stroke-linecap="butt"/>
<text x="392.7" y="155" font-size="5.6" text-anchor="end" font-weight="bold" fill="#000" transform="rotate(0.03 392.7 155)" stroke="#000" stroke-width="0.2">80</text>
<line x1="393.6" y1="168.8" x2="395.8" y2="168.8" stroke="#000" stroke-width="0.9" stroke-linecap="butt"/>
<text x="392.7" y="170.8" font-size="5.6" text-anchor="end" font-weight="bold" fill="#000" transform="rotate(0.03 392.7 170.8)" stroke="#000" stroke-width="0.2">60</text>
<line x1="393.6" y1="185" x2="395.8" y2="185" stroke="#000" stroke-width="0.9" stroke-linecap="butt"/>
<text x="392.7" y="187" font-size="5.6" text-anchor="end" font-weight="bold" fill="#000" transform="rotate(0.03 392.7 187)" stroke="#000" stroke-width="0.2">40</text>
<line x1="393.6" y1="201.7" x2="395.8" y2="201.7" stroke="#000" stroke-width="0.9" stroke-linecap="butt"/>
<text x="392.7" y="203.7" font-size="5.6" text-anchor="end" font-weight="bold" fill="#000" transform="rotate(0.03 392.7 203.7)" stroke="#000" stroke-width="0.2">20</text>
<line x1="393.6" y1="217.9" x2="395.8" y2="217.9" stroke="#000" stroke-width="0.9" stroke-linecap="butt"/>
<text x="392.7" y="219.9" font-size="5.6" text-anchor="end" font-weight="bold" fill="#000" transform="rotate(0.03 392.7 219.9)" stroke="#000" stroke-width="0.2">0</text>
<line x1="416" y1="217.9" x2="416" y2="220.1" stroke="#000" stroke-width="1" stroke-linecap="butt"/>
<line x1="456.8" y1="217.9" x2="456.8" y2="220.1" stroke="#000" stroke-width="1" stroke-linecap="butt"/>
<line x1="497.5" y1="217.9" x2="497.5" y2="220.1" stroke="#000" stroke-width="1" stroke-linecap="butt"/>
<text x="457" y="126.5" font-size="9.1" text-anchor="middle" font-weight="bold" fill="#000" transform="rotate(0.03 457 126.5)" stroke="#000" stroke-width="0.22">CD27<tspan font-size="6.01" dy="-4.28">-</tspan><tspan dy="4.28">CD28</tspan><tspan font-size="6.01" dy="-4.28">-</tspan></text>
<text x="367.1" y="177.6" font-size="9.1" text-anchor="middle" font-weight="bold" fill="#000" transform="rotate(-90 367.1 177.6)" stroke="#000" stroke-width="0.22">CD27<tspan font-size="4.73" dy="-5.28">-</tspan><tspan dy="5.28">CD28</tspan><tspan font-size="4.73" dy="-5.28">-</tspan><tspan dy="5.28">/CD8</tspan><tspan font-size="4.73" dy="-5.28">+</tspan></text>
<text x="378.7" y="174.8" font-size="8.95" text-anchor="middle" font-weight="bold" fill="#000" transform="rotate(-90 378.7 174.8)" stroke="#000" stroke-width="0.22">splenic lymphocytes (%)</text>
<line x1="402.3" y1="201.5" x2="429.7" y2="201.5" stroke="#222" stroke-width="1" stroke-linecap="butt"/>
<line x1="416" y1="190.9" x2="416" y2="206.5" stroke="#333" stroke-width="0.8" stroke-linecap="butt"/>
<line x1="408.5" y1="190.9" x2="423.5" y2="190.9" stroke="#333" stroke-width="0.8" stroke-linecap="butt"/>
<line x1="408.5" y1="206.5" x2="423.5" y2="206.5" stroke="#333" stroke-width="0.8" stroke-linecap="butt"/>
<line x1="442.9" y1="206.5" x2="470.3" y2="206.5" stroke="#222" stroke-width="1" stroke-linecap="butt"/>
<line x1="456.6" y1="197.4" x2="456.6" y2="209.8" stroke="#333" stroke-width="0.8" stroke-linecap="butt"/>
<line x1="448.85" y1="197.4" x2="464.35" y2="197.4" stroke="#333" stroke-width="0.8" stroke-linecap="butt"/>
<line x1="448.85" y1="209.8" x2="464.35" y2="209.8" stroke="#333" stroke-width="0.8" stroke-linecap="butt"/>
<line x1="483.7" y1="190.5" x2="511.3" y2="190.5" stroke="#222" stroke-width="1" stroke-linecap="butt"/>
<line x1="497.5" y1="163.5" x2="497.5" y2="199.8" stroke="#333" stroke-width="0.8" stroke-linecap="butt"/>
<line x1="490.5" y1="163.5" x2="504.5" y2="163.5" stroke="#333" stroke-width="0.8" stroke-linecap="butt"/>
<line x1="493.5" y1="199.8" x2="501.5" y2="199.8" stroke="#333" stroke-width="0.8" stroke-linecap="butt"/>
<circle cx="416.3" cy="188.3" r="2.1"/>
<circle cx="421.4" cy="190.7" r="2.1"/>
<circle cx="416.3" cy="195.4" r="2.1"/>
<circle cx="411.2" cy="201.5" r="2.1"/>
<circle cx="416.3" cy="201.7" r="2.1"/>
<circle cx="421.4" cy="206.5" r="2.1"/>
<circle cx="416.3" cy="208.4" r="2.1"/>
<rect x="455.1" y="178" width="3.6" height="3.6"/>
<rect x="455.1" y="193.2" width="3.6" height="3.6"/>
<rect x="450.7" y="198.7" width="3.6" height="3.6"/>
<rect x="455.1" y="198.7" width="3.6" height="3.6"/>
<rect x="445.6" y="204.8" width="3.6" height="3.6"/>
<rect x="450.7" y="205.8" width="3.6" height="3.6"/>
<rect x="455.1" y="207.8" width="3.6" height="3.6"/>
<rect x="460.2" y="206" width="3.6" height="3.6"/>
<rect x="465.3" y="204.8" width="3.6" height="3.6"/>
<rect x="455.1" y="204.2" width="3.6" height="3.6"/>
<path d="M492.6 149L494.55 152.6L490.65 152.6Z"/>
<path d="M497.7 152L499.65 155.6L495.75 155.6Z"/>
<path d="M497.6 165.1L499.55 168.7L495.65 168.7Z"/>
<path d="M497.6 175.2L499.55 178.8L495.65 178.8Z"/>
<path d="M497.6 186.1L499.55 189.7L495.65 189.7Z"/>
<path d="M497.6 192.6L499.55 196.2L495.65 196.2Z"/>
<path d="M492.7 197.1L494.65 200.7L490.75 200.7Z"/>
<path d="M497.6 198.3L499.55 201.9L495.65 201.9Z"/>
<path d="M502.4 197.7L504.35 201.3L500.45 201.3Z"/>
<path d="M507.3 196.7L509.25 200.3L505.35 200.3Z"/>
<path d="M416.4 137.9L416.4 136L498.8 136L498.8 137.9" fill="none" stroke="#6c6c6c" stroke-width="1"/>
<text x="456" y="136.4" font-size="7" text-anchor="middle" font-weight="bold" fill="#1a1a1a" transform="rotate(0.03 456 136.4)" stroke="#1a1a1a" stroke-width="0.1">*</text>
<path d="M416.4 150.4L416.4 148.5L457.4 148.5L457.4 150.4" fill="none" stroke="#6c6c6c" stroke-width="1"/>
<text x="0" y="0" font-size="5.9" text-anchor="middle" font-weight="normal" fill="#404040" transform="translate(438.3 146.7) rotate(0.03) scale(0.88 1)" stroke="#404040" stroke-width="0.12">NS</text>
<path d="M458.2 143.7L458.2 141.8L498.8 141.8L498.8 143.7" fill="none" stroke="#6c6c6c" stroke-width="1"/>
<text x="479.5" y="142.2" font-size="7" text-anchor="middle" font-weight="bold" fill="#1a1a1a" transform="rotate(0.03 479.5 142.2)" stroke="#1a1a1a" stroke-width="0.1">**</text>
<text x="461.4" y="182.4" font-size="7.5" text-anchor="start" font-weight="bold" fill="#000" transform="rotate(0.03 461.4 182.4)" stroke="#000" stroke-width="0.26">#6</text>
<text x="502.8" y="149.4" font-size="7.5" text-anchor="start" font-weight="bold" fill="#000" transform="rotate(0.03 502.8 149.4)" stroke="#000" stroke-width="0.26">#19</text>
<text x="502.8" y="156.2" font-size="7.5" text-anchor="start" font-weight="bold" fill="#000" transform="rotate(0.03 502.8 156.2)" stroke="#000" stroke-width="0.26">#14</text>
<text x="1.1" y="15.1" font-size="11.7" text-anchor="start" font-weight="bold" fill="#000" transform="rotate(0.03 1.1 15.1)" stroke="#000" stroke-width="0.22">A</text>
<text x="0.4" y="125.5" font-size="11.3" text-anchor="start" font-weight="bold" fill="#000" transform="rotate(0.03 0.4 125.5)" stroke="#000" stroke-width="0.22">B</text>
<circle cx="70.3" cy="240.3" r="2.15"/>
<text x="78.5" y="242.8" font-size="7.35" text-anchor="start" font-weight="bold" fill="#000" transform="rotate(0.03 78.5 242.8)" stroke="#000" stroke-width="0.26">Controls</text>
<rect x="118.3" y="238.4" width="3.8" height="3.8"/>
<text x="128" y="242.8" font-size="7.55" text-anchor="start" font-weight="bold" fill="#000" transform="rotate(0.03 128 242.8)" stroke="#000" stroke-width="0.26">RTX-Untreated ITP</text>
<path d="M207.5 238.4L209.65 242.4L205.35 242.4Z"/>
<text x="215.3" y="242.8" font-size="7.5" text-anchor="start" font-weight="bold" fill="#000" transform="rotate(0.03 215.3 242.8)" stroke="#000" stroke-width="0.26">RTX-Non-responder ITP</text>
</g>
</svg>
</body></html>
